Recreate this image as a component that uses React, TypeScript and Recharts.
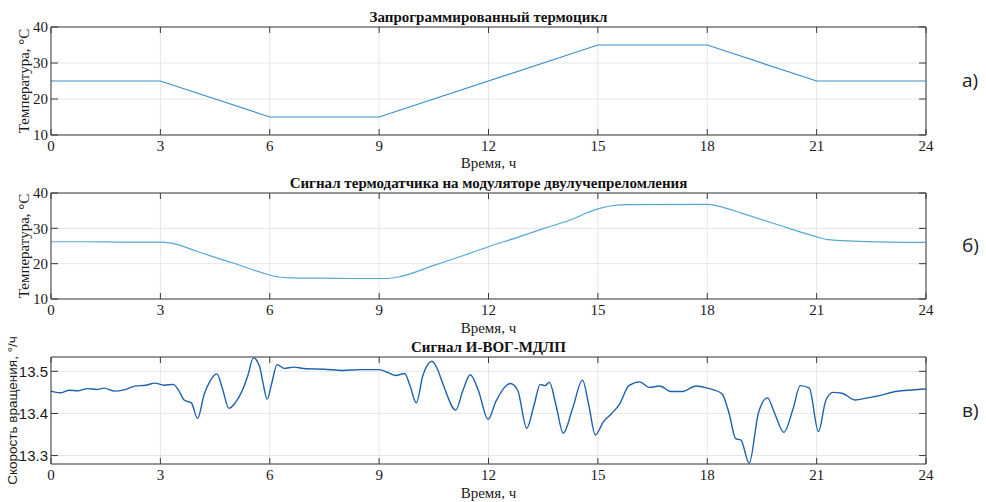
import { CartesianGrid, Line, LineChart, ReferenceLine, XAxis, YAxis } from "recharts";

// часы по оси X, общие для всех трёх графиков
const hourTicks = [0, 3, 6, 9, 12, 15, 18, 21, 24];

// а) заданный термоцикл
const programHours = [0, 3, 6, 9, 15, 18, 21, 24];
const programTemp = [25, 25, 15, 15, 35, 35, 25, 25];

// б) термодатчик на модуляторе
const sensorHours = [
  0, 1, 2, 3, 3.3, 4, 4.5, 5, 5.8, 6.2, 6.6, 7.5, 8.5, 9.2, 9.6, 10.5, 11.25, 12, 12.75, 13.5, 14.4, 14.7,
  15, 15.4, 15.8, 18, 18.3, 19, 20, 21, 21.3, 22, 24,
];
const sensorTemp = [
  26.2, 26.2, 26.1, 26.1, 25.8, 23.5, 21.8, 20.2, 17.4, 16.3, 16.0, 15.9, 15.8, 15.8, 16.4, 19.5, 22.1, 24.8,
  27.3, 29.9, 33.0, 34.4, 35.5, 36.4, 36.7, 36.8, 36.3, 34.1, 30.8, 27.6, 26.8, 26.4, 26.0,
];

// в) выходной сигнал гироскопа
const gyroHours = [
  0, 0.25, 0.5, 0.75, 1, 1.25, 1.45, 1.75, 2, 2.3, 2.6, 2.85, 3.1, 3.35, 3.5, 3.65, 3.85, 4.02, 4.2, 4.35,
  4.55, 4.7, 4.88, 5.05, 5.25, 5.4, 5.55, 5.72, 5.82, 5.93, 6.05, 6.2, 6.4, 6.65, 7, 7.5, 8, 8.5, 9, 9.25,
  9.45, 9.7, 9.85, 10.02, 10.2, 10.45, 10.6, 10.78, 11.1, 11.3, 11.5, 11.72, 11.99, 12.2, 12.5, 12.6, 12.8,
  13.05, 13.25, 13.42, 13.55, 13.67, 13.85, 14.05, 14.3, 14.58, 14.75, 14.93, 15.15, 15.38, 15.6, 15.85,
  16.15, 16.4, 16.7, 17, 17.3, 17.7, 18, 18.4, 18.6, 18.78, 18.92, 19.15, 19.4, 19.65, 19.85, 20.1, 20.35,
  20.55, 20.8, 21.05, 21.25, 21.45, 21.7, 22.05, 22.4, 22.75, 23.1, 23.5, 24,
];
const gyroRate = [
  13.453, 13.449, 13.455, 13.454, 13.459, 13.457, 13.46, 13.453, 13.456, 13.465, 13.467, 13.472, 13.467,
  13.469, 13.455, 13.432, 13.425, 13.388, 13.445, 13.475, 13.494, 13.46, 13.412, 13.425, 13.455, 13.49,
  13.532, 13.512, 13.47, 13.434, 13.47, 13.516, 13.507, 13.51, 13.506, 13.505, 13.502, 13.504, 13.504,
  13.497, 13.49, 13.495, 13.465, 13.425, 13.49, 13.524, 13.505, 13.463, 13.408, 13.455, 13.492, 13.455,
  13.386, 13.428, 13.467, 13.471, 13.455, 13.365, 13.42, 13.469, 13.466, 13.474, 13.42, 13.353, 13.41,
  13.479, 13.42, 13.349, 13.38, 13.4, 13.423, 13.466, 13.475, 13.462, 13.465, 13.452, 13.452, 13.465, 13.46,
  13.447, 13.4, 13.34, 13.337, 13.282, 13.4, 13.437, 13.4, 13.355, 13.41, 13.466, 13.46, 13.357, 13.43,
  13.45, 13.448, 13.432, 13.437, 13.443, 13.451, 13.455, 13.458,
];

const SERIF = "'Liberation Serif', 'Times New Roman', serif";
const SANS = "'Liberation Sans', Arial, sans-serif";
const PLOT_LEFT = 51;
const PLOT_W = 875;
const FRAME = "#3a3a3a";
const EXTRA = 14; // запас снизу под подпись оси X

type PanelProps = {
  top: number;
  height: number;
  plotTop: number;
  plotH: number;
  data: { h: number; v: number }[];
  domain: [number, number];
  yTicks: number[];
  yFont: string;
  yFmt: (v: number) => string;
  yTitle: string;
  yTitleFont: string;
  yTitleSize: number;
  yTitleX: number;
  xTitleDy: number;
  title: string;
  tag: string;
  color: string;
  width: number;
  curve: "linear" | "monotone";
};

function Panel(p: PanelProps) {
  const plotBottom = p.plotTop + p.plotH;
  const h = p.height + EXTRA;
  const xTick = (t: any) => (
    <g>
      <text x={t.x} y={t.y + 16} textAnchor="middle" fontFamily={SERIF} fontSize={15} fill="#1a1a1a">
        {t.payload.value}
      </text>
      <line x1={t.x} x2={t.x} y1={t.y} y2={t.y - 6} stroke={FRAME} />
      <line x1={t.x} x2={t.x} y1={t.y - p.plotH} y2={t.y - p.plotH + 6} stroke={FRAME} />
    </g>
  );
  const yTick = (t: any) => (
    <g>
      <text x={t.x - 3} y={t.y} dy="0.35em" textAnchor="end" fontFamily={p.yFont} fontSize={15} fill="#1a1a1a">
        {p.yFmt(t.payload.value)}
      </text>
      <line x1={t.x} x2={t.x + 7} y1={t.y} y2={t.y} stroke={FRAME} />
      <line x1={t.x + PLOT_W} x2={t.x + PLOT_W - 7} y1={t.y} y2={t.y} stroke={FRAME} />
    </g>
  );
  return (
    <div style={{ position: "absolute", left: 0, top: p.top, width: 986, height: h }}>
      <div
        style={{
          position: "absolute",
          left: PLOT_LEFT,
          width: PLOT_W,
          top: p.plotTop - 19,
          textAlign: "center",
          fontFamily: SERIF,
          fontWeight: "bold",
          fontSize: 15,
          lineHeight: "18px",
          color: "#111",
        }}
      >
        {p.title}
      </div>
      <div
        style={{
          position: "absolute",
          left: 962,
          top: p.plotTop + p.plotH / 2 - 14,
          fontFamily: "'Open Sans', sans-serif",
          fontSize: 19,
          lineHeight: "26px",
          color: "#222",
        }}
      >
        {p.tag}
      </div>
      <LineChart
        width={986}
        height={h}
        data={p.data}
        margin={{ top: p.plotTop, right: 986 - PLOT_LEFT - PLOT_W, bottom: 0, left: 0 }}
      >
        <CartesianGrid stroke="#e6e6e6" />
        <XAxis
          dataKey="h"
          type="number"
          domain={[0, 24]}
          ticks={hourTicks}
          height={h - plotBottom}
          tickSize={0}
          tickMargin={0}
          tickLine={false}
          tick={xTick}
          axisLine={{ stroke: FRAME }}
          label={{
            content: () => (
              <text
                x={PLOT_LEFT + PLOT_W / 2}
                y={plotBottom + p.xTitleDy}
                textAnchor="middle"
                fontFamily={SERIF}
                fontSize={15}
                fill="#1a1a1a"
              >
                Время, ч
              </text>
            ),
          }}
        />
        <YAxis
          type="number"
          domain={p.domain}
          ticks={p.yTicks}
          allowDataOverflow
          width={PLOT_LEFT}
          tickSize={0}
          tickMargin={0}
          tickLine={false}
          tick={yTick}
          axisLine={{ stroke: FRAME }}
          label={{
            content: () => (
              <text
                x={p.yTitleX}
                y={p.plotTop + p.plotH / 2}
                transform={`rotate(-90 ${p.yTitleX} ${p.plotTop + p.plotH / 2})`}
                textAnchor="middle"
                dominantBaseline="central"
                fontFamily={p.yTitleFont}
                fontSize={p.yTitleSize}
                fill="#1a1a1a"
              >
                {p.yTitle}
              </text>
            ),
          }}
        />
        <ReferenceLine y={p.domain[1]} stroke={FRAME} />
        <ReferenceLine x={24} stroke={FRAME} />
        <Line
          type={p.curve}
          dataKey="v"
          stroke={p.color}
          strokeWidth={p.width}
          dot={false}
          isAnimationActive={false}
        />
      </LineChart>
    </div>
  );
}

const zip = (hs: number[], vs: number[]) => hs.map((h, i) => ({ h, v: vs[i] }));

export default function App() {
  return (
    <div style={{ position: "absolute", left: 0, top: 0, width: 986, height: 502, background: "#fff" }}>
      <Panel
        top={0}
        height={170}
        plotTop={27}
        plotH={108}
        data={zip(programHours, programTemp)}
        domain={[10, 40]}
        yTicks={[10, 20, 30, 40]}
        yFont={SERIF}
        yFmt={(v) => String(v)}
        yTitle="Температура, °С"
        yTitleFont={SERIF}
        yTitleSize={15}
        yTitleX={24}
        xTitleDy={33}
        title="Запрограммированный термоцикл"
        tag="а)"
        color="#3b8fc8"
        width={1.2}
        curve="linear"
      />
      <Panel
        top={170}
        height={165}
        plotTop={23}
        plotH={106}
        data={zip(sensorHours, sensorTemp)}
        domain={[10, 40]}
        yTicks={[10, 20, 30, 40]}
        yFont={SERIF}
        yFmt={(v) => String(v)}
        yTitle="Температура, °С"
        yTitleFont={SERIF}
        yTitleSize={15}
        yTitleX={24}
        xTitleDy={34}
        title="Сигнал термодатчика на модуляторе двулучепреломления"
        tag="б)"
        color="#55a7d5"
        width={1.2}
        curve="monotone"
      />
      <Panel
        top={335}
        height={167}
        plotTop={22}
        plotH={107}
        data={zip(gyroHours, gyroRate)}
        domain={[13.28, 13.534]}
        yTicks={[13.3, 13.4, 13.5]}
        yFont={SANS}
        yFmt={(v) => v.toFixed(1)}
        yTitle="Скорость вращения, °/ч"
        yTitleFont={SANS}
        yTitleSize={13.5}
        yTitleX={12}
        xTitleDy={34}
        title="Сигнал И-ВОГ-МДЛП"
        tag="в)"
        color="#1d62ad"
        width={1.4}
        curve="monotone"
      />
    </div>
  );
}
